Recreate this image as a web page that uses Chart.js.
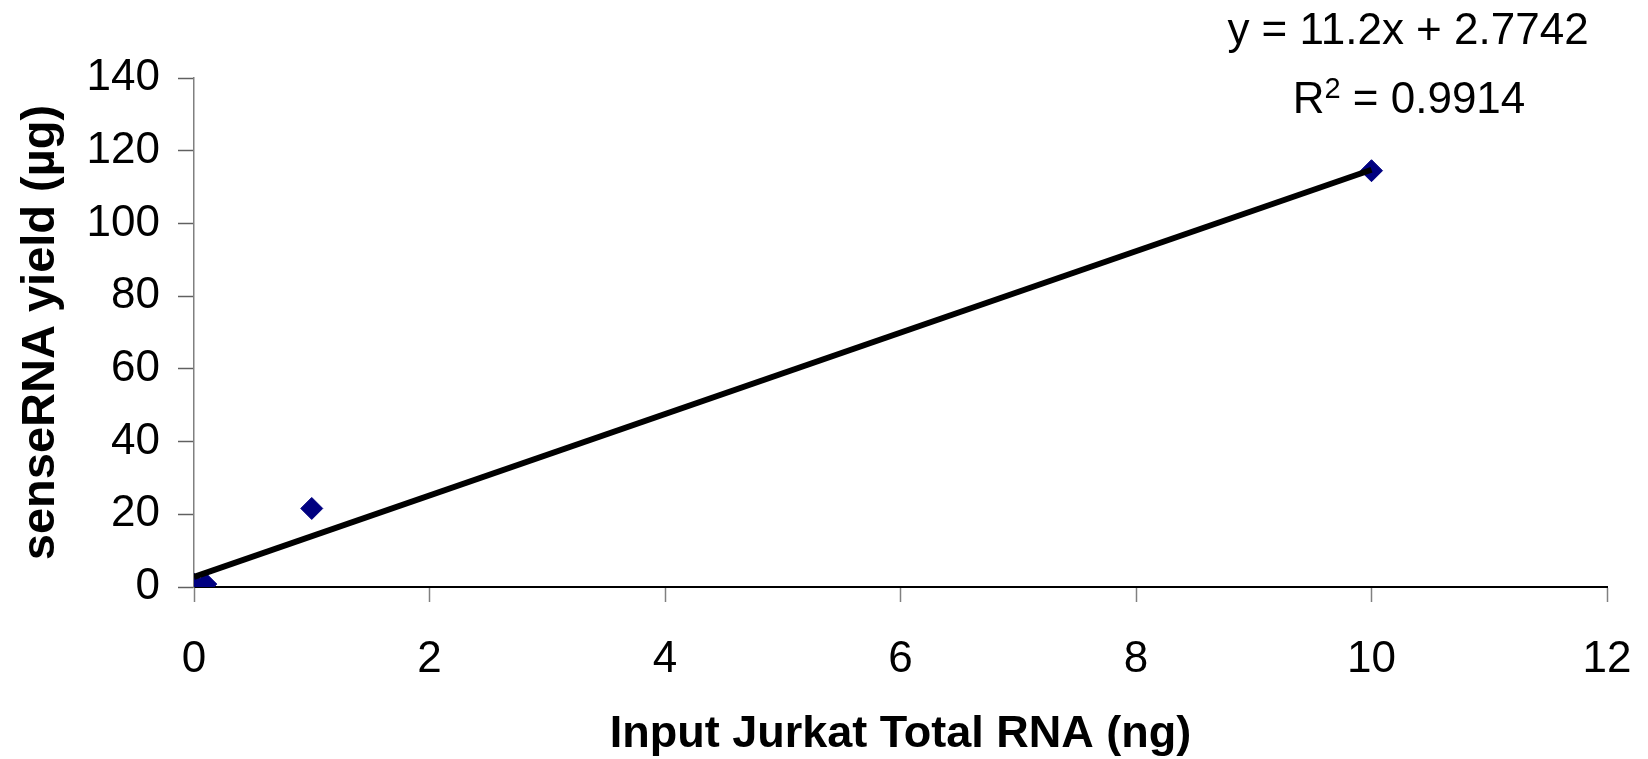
<!DOCTYPE html>
<html>
<head>
<meta charset="utf-8">
<script src="https://cdn.jsdelivr.net/npm/chart.js@4.4.1/dist/chart.umd.min.js"></script>
<style>
  html, body { margin: 0; padding: 0; background: #ffffff; }
  #wrap { width: 1648px; height: 759px; }
</style>
</head>
<body>
<div id="wrap"><canvas id="c" width="1648" height="759"></canvas></div>
<script>
// ---- data ----
const inputRNA_ng = [0, 0.1, 1, 10];
const senseRNA_ug = [0.8, 0.8, 21.6, 114.5];
const trendX = [0, 10];
const trendY = [2.7742, 114.7742];
const xTicks = [0, 2, 4, 6, 8, 10, 12];
const yTicks = [0, 20, 40, 60, 80, 100, 120, 140];
const equationText = "y = 11.2x + 2.7742";
const r2Label = "R";
const r2Sup = "2";
const r2Value = " = 0.9914";
const xTitle = "Input Jurkat Total RNA (ng)";
const yTitle = "senseRNA yield (\u00B5g)";

const FONT = "'Liberation Sans', Arial, sans-serif";

const scatterPts = inputRNA_ng.map((x, i) => ({ x: x, y: senseRNA_ug[i] }));
const trendPts = trendX.map((x, i) => ({ x: x, y: trendY[i] }));

const annotationPlugin = {
  id: 'trendAnnotation',
  afterDraw(chart) {
    const ctx = chart.ctx;
    const ca = chart.chartArea;
    const cx = ca.right - 199;
    ctx.save();
    ctx.fillStyle = '#000000';
    ctx.textBaseline = 'alphabetic';
    ctx.textAlign = 'left';
    ctx.font = '44px ' + FONT;
    const w1 = ctx.measureText(equationText).width;
    ctx.fillText(equationText, cx - w1 / 2, ca.top - 34);
    const wR = ctx.measureText(r2Label).width;
    const wV = ctx.measureText(r2Value).width;
    ctx.font = '29px ' + FONT;
    const wS = ctx.measureText(r2Sup).width;
    const total = wR + wS + wV;
    let x0 = cx + 1 - total / 2;
    const base2 = ca.top + 35;
    ctx.font = '44px ' + FONT;
    ctx.fillText(r2Label, x0, base2);
    ctx.font = '29px ' + FONT;
    ctx.fillText(r2Sup, x0 + wR, base2 - 15);
    ctx.font = '44px ' + FONT;
    ctx.fillText(r2Value, x0 + wR + wS, base2);
    ctx.restore();
  }
};

new Chart(document.getElementById('c'), {
  type: 'scatter',
  data: {
    datasets: [
      {
        label: 'trend',
        type: 'line',
        data: trendPts,
        borderColor: '#000000',
        borderWidth: 6,
        pointRadius: 0,
        fill: false,
        order: 0
      },
      {
        label: 'senseRNA',
        data: scatterPts,
        pointStyle: 'rectRot',
        pointRadius: 11,
        pointBackgroundColor: '#000080',
        pointBorderColor: '#000080',
        pointBorderWidth: 1,
        order: 1
      }
    ]
  },
  options: {
    responsive: false,
    animation: false,
    layout: { padding: { top: 78, right: 41, left: 0, bottom: 0 } },
    plugins: {
      legend: { display: false },
      tooltip: { enabled: false }
    },
    scales: {
      x: {
        type: 'linear',
        position: 'bottom',
        min: 0,
        max: 12,
        afterBuildTicks: (s) => { s.ticks = xTicks.map(v => ({ value: v })); },
        afterFit: (s) => { s.height = 172; s.paddingLeft = 0; s.paddingRight = 0; },
        ticks: {
          color: '#000000',
          font: { family: FONT, size: 44 },
          padding: 31,
          maxRotation: 0
        },
        grid: {
          display: true,
          drawOnChartArea: false,
          drawTicks: true,
          tickLength: 15,
          tickColor: '#808080',
          tickWidth: 1.5
        },
        border: { display: true, color: '#000000', width: 2 },
        title: {
          display: true,
          text: xTitle,
          color: '#000000',
          font: { family: FONT, size: 45, weight: 'bold', lineHeight: 1.1 },
          padding: { top: 0, bottom: 0 }
        }
      },
      y: {
        type: 'linear',
        position: 'left',
        min: 0,
        max: 140,
        afterBuildTicks: (s) => { s.ticks = yTicks.map(v => ({ value: v })); },
        afterFit: (s) => { s.width = 194; s.paddingTop = 0; s.paddingBottom = 0; },
        ticks: {
          color: '#000000',
          font: { family: FONT, size: 44 },
          padding: 18
        },
        grid: {
          display: true,
          drawOnChartArea: false,
          drawTicks: true,
          tickLength: 16,
          tickColor: '#606060',
          tickWidth: 1.5
        },
        border: { display: true, color: '#808080', width: 1.5 },
        title: {
          display: true,
          text: yTitle,
          color: '#000000',
          font: { family: FONT, size: 47, weight: 'bold', lineHeight: 1.1 },
          padding: { top: 15, bottom: 0 }
        }
      }
    }
  },
  plugins: [annotationPlugin]
});
</script>
</body>
</html>
